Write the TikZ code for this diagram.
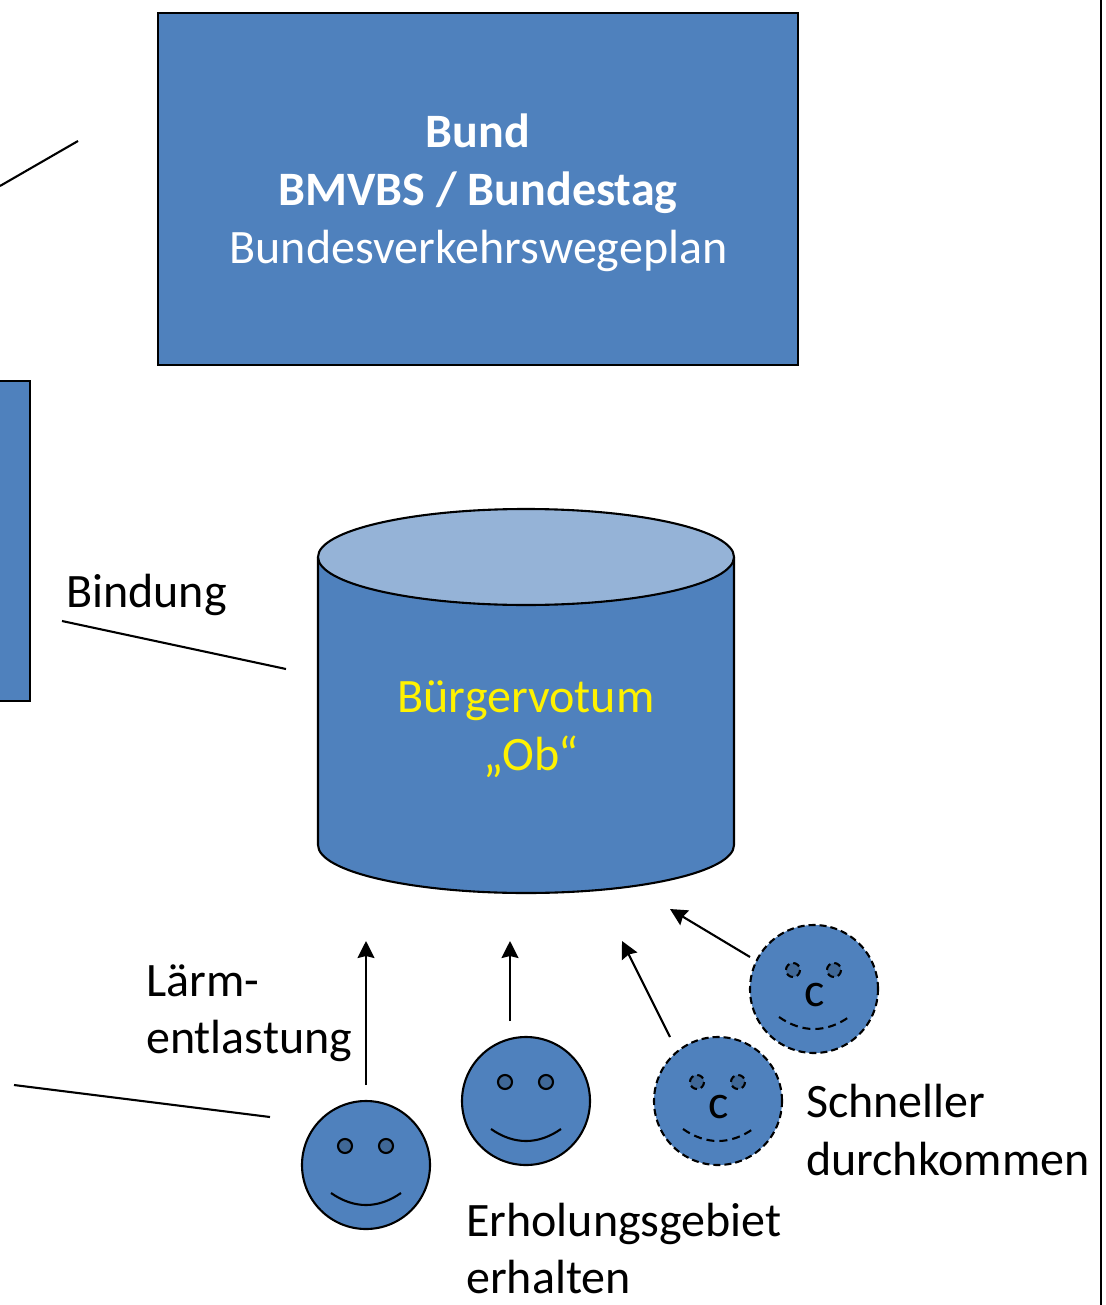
\documentclass[tikz,border=0pt]{standalone}
\usepackage{fontspec}
\setmainfont{Carlito}
\usetikzlibrary{arrows.meta}
\definecolor{blu}{HTML}{4F81BD}
\definecolor{eyec}{HTML}{406897}
\definecolor{lid}{HTML}{95B3D7}
\tikzset{
  x=1pt,y=-1pt,
  box/.style={draw=black,fill=blu,line width=2pt},
  txt/.style={font=\fontsize{48}{58}\selectfont,inner sep=0pt,align=left},
  ctxt/.style={txt,align=center},
  plainline/.style={line width=2.1pt,black},
  arr/.style={plainline,-{Stealth[length=17pt,width=17pt,inset=2pt]}},
  face/.style={draw=black,fill=blu,line width=2.1pt},
  eye/.style={draw=black,fill=eyec,line width=2.1pt},
  dface/.style={face,dash pattern=on 7pt off 4pt},
  deye/.style={eye,dash pattern=on 7pt off 4pt},
  mouth/.style={draw=black,line width=2.1pt},
  dmouth/.style={mouth,dash pattern=on 8pt off 5pt},
}
\newcommand{\smiley}[4]{%
  \node[#4face,circle,minimum size=128pt,inner sep=0pt] (#3) at (#1,#2) {};
  \draw[#4eye] (#1-21,#2-19) circle (7);
  \draw[#4eye] (#1+20,#2-19) circle (7);
  \draw[#4mouth] (#1-35,#2+28) .. controls (#1-12,#2+44) and (#1+12,#2+44) .. (#1+35,#2+28);
}
\begin{document}
\begin{tikzpicture}
\useasboundingbox (0,0) rectangle (1105,1305);
% border on the right
\coordinate (borderT) at (1101,0);
\coordinate (borderB) at (1101,1305);
\draw[plainline] (borderT) -- (borderB);
% Bund box
\node[box,minimum width=640pt,minimum height=352pt,inner sep=0pt] (bund) at (478,189) {};
\node[ctxt,text=white,anchor=base] (bund1) at (478,148) {\textbf{Bund}};
\node[ctxt,text=white,anchor=base] (bund2) at (478,206) {\textbf{BMVBS / Bundestag}};
\node[ctxt,text=white,anchor=base] (bund3) at (478.5,264) {Bundesverkehrswegeplan};
% left box, cut by the page edge
\filldraw[box] (-5,381) -- (30,381) -- (30,701) -- (-5,701) -- cycle;
% cylinder
\draw[plainline,fill=blu] (318,557) -- (318,845) .. controls (318,871.5) and (411,893) .. (526,893) .. controls (641,893) and (734,871.5) .. (734,845) -- (734,557);
\draw[plainline,fill=lid] (526,557) ellipse [x radius=208,y radius=48];
\node[ctxt,text=yellow,anchor=base] (vot1) at (526,712) {Bürgervotum};
\node[ctxt,text=yellow,anchor=base] (vot2) at (531,770) {„Ob“};
% free lines
\coordinate (a1) at (0,186); \coordinate (a2) at (78,141);
\draw[plainline] (a1) -- (a2);
\coordinate (b1) at (62,621); \coordinate (b2) at (286,669);
\draw[plainline] (b1) -- (b2);
\coordinate (c1) at (14,1085); \coordinate (c2) at (270,1117);
\draw[plainline] (c1) -- (c2);
\node[txt,anchor=base west] (bindung) at (66,607) {Bindung};
% faces
\smiley{366}{1165}{f1}{}
\smiley{526}{1101}{f2}{}
\smiley{718}{1101}{f3}{d}
\smiley{814}{989}{f4}{d}
\node[txt,anchor=base] (c3) at (719,1118) {c};
\node[txt,anchor=base] (c4) at (815,1006) {c};
% arrows
\coordinate (t1s) at (366,1085); \coordinate (t1e) at (366,941);
\coordinate (t2s) at (510,1021); \coordinate (t2e) at (510,941);
\coordinate (t3s) at (670,1037); \coordinate (t3e) at (622,941);
\coordinate (t4s) at (750,957);  \coordinate (t4e) at (670,909);
\draw[arr] (t1s) -- (t1e);
\draw[arr] (t2s) -- (t2e);
\draw[arr] (t3s) -- (t3e);
\draw[arr] (t4s) -- (t4e);
% labels
\node[txt,anchor=base west] (l1) at (146,996) {Lärm-};
\node[txt,anchor=base west] (l2) at (146,1053) {entlastung};
\node[txt,anchor=base west] (e1) at (466,1236) {Erholungsgebiet};
\node[txt,anchor=base west] (e2) at (466,1293) {erhalten};
\node[txt,anchor=base west] (s1) at (806,1117) {Schneller};
\node[txt,anchor=base west] (s2) at (806,1175) {durchkommen};
\end{tikzpicture}
\end{document}
